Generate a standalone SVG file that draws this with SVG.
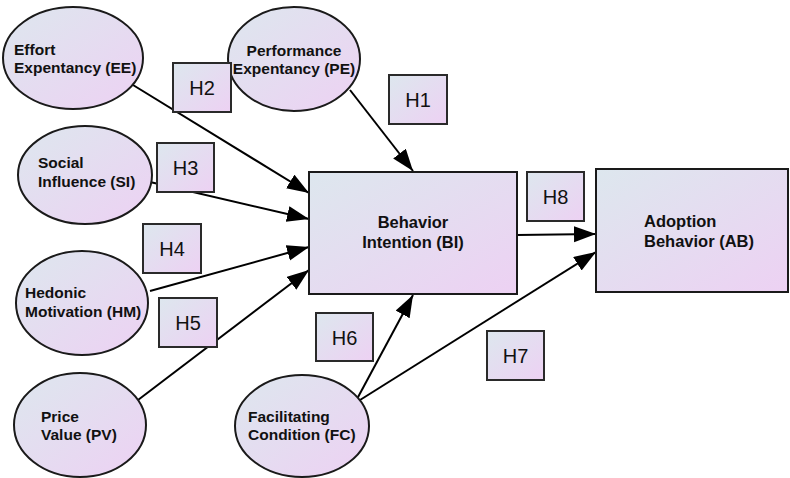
<svg xmlns="http://www.w3.org/2000/svg" width="790" height="478" viewBox="0 0 790 478">
<defs>
<linearGradient id="g" x1="0" y1="0" x2="1" y2="1">
<stop offset="0" stop-color="#dde7ee"/>
<stop offset="1" stop-color="#edd1f3"/>
</linearGradient>
<marker id="arr" markerUnits="userSpaceOnUse" markerWidth="24" markerHeight="18" refX="22" refY="8" orient="auto">
<path d="M0,0 L22,8 L0,16 z" fill="#000"/>
</marker>
</defs>
<style>
.n{fill:url(#g);stroke:#1a1a1a;stroke-width:2}
.h{fill:url(#g);stroke:#2a2a2a;stroke-width:2}
.t{font-family:"Liberation Sans",Arial,sans-serif;font-weight:bold;font-size:15.5px;fill:#111}
.b{font-size:16.5px}
.c{text-anchor:middle}
.l{font-family:"Liberation Sans",Arial,sans-serif;font-size:20px;fill:#111;text-anchor:middle}
.e{stroke:#000;stroke-width:2;fill:none;marker-end:url(#arr)}
</style>
<rect width="790" height="478" fill="#fff"/>
<g id="connectors">
<line class="e" x1="133" y1="85" x2="309" y2="193"/>
<line class="e" x1="350" y1="90" x2="413" y2="171"/>
<line class="e" x1="150" y1="182" x2="309" y2="219"/>
<line class="e" x1="150" y1="291" x2="309" y2="247"/>
<line class="e" x1="138" y1="400" x2="309" y2="270"/>
<line class="e" x1="357" y1="399" x2="413" y2="295"/>
<line class="e" x1="360" y1="400" x2="596" y2="252"/>
<line class="e" x1="517" y1="235" x2="596" y2="234"/>
</g>
<g id="EE">
<ellipse class="n" cx="73" cy="58" rx="70" ry="51"/>
<text class="t" x="14" y="55">Effort</text>
<text class="t" x="14" y="73">Expentancy (EE)</text>
</g>
<g id="PE">
<ellipse class="n" cx="294" cy="59" rx="66" ry="52"/>
<text class="t c" x="294" y="56">Performance</text>
<text class="t c" x="294" y="74">Expentancy (PE)</text>
</g>
<g id="SI">
<ellipse class="n" cx="85" cy="175" rx="67" ry="49"/>
<text class="t" x="38" y="168">Social</text>
<text class="t" x="38" y="187">Influence (SI)</text>
</g>
<g id="HM">
<ellipse class="n" cx="82" cy="303" rx="66" ry="52"/>
<text class="t" x="25" y="298">Hedonic</text>
<text class="t" x="25" y="317">Motivation (HM)</text>
</g>
<g id="PV">
<ellipse class="n" cx="80" cy="425" rx="66" ry="52"/>
<text class="t" x="41" y="422">Price</text>
<text class="t" x="41" y="440">Value (PV)</text>
</g>
<g id="FC">
<ellipse class="n" cx="302" cy="426" rx="67" ry="51"/>
<text class="t" x="248" y="422">Facilitating</text>
<text class="t" x="248" y="440">Condition (FC)</text>
</g>
<g id="BI">
<rect class="n" x="309" y="172" width="208" height="122"/>
<text class="t b c" x="413" y="228">Behavior</text>
<text class="t b c" x="413" y="248">Intention (BI)</text>
</g>
<g id="AB">
<rect class="n" x="596" y="169" width="192" height="123"/>
<text class="t b" x="644" y="227">Adoption</text>
<text class="t b" x="644" y="247">Behavior (AB)</text>
</g>
<g id="H1"><rect class="h" x="389" y="75" width="58" height="49"/><text class="l" x="418" y="107">H1</text></g>
<g id="H2"><rect class="h" x="173" y="63" width="58" height="49"/><text class="l" x="202" y="95">H2</text></g>
<g id="H3"><rect class="h" x="157" y="143" width="57" height="49"/><text class="l" x="185.5" y="175">H3</text></g>
<g id="H4"><rect class="h" x="143" y="224" width="58" height="49"/><text class="l" x="172" y="256">H4</text></g>
<g id="H5"><rect class="h" x="159" y="298" width="58" height="49"/><text class="l" x="188" y="330">H5</text></g>
<g id="H6"><rect class="h" x="316" y="313" width="57" height="48"/><text class="l" x="344.5" y="345">H6</text></g>
<g id="H7"><rect class="h" x="487" y="331" width="57" height="49"/><text class="l" x="515.5" y="363">H7</text></g>
<g id="H8"><rect class="h" x="527" y="172" width="57" height="49"/><text class="l" x="555.5" y="204">H8</text></g>
</svg>
